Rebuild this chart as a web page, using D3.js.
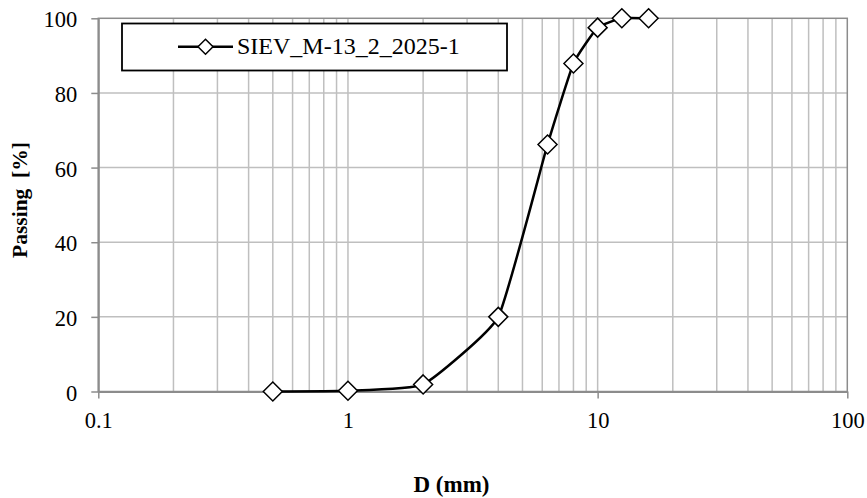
<!DOCTYPE html>
<html><head><meta charset="utf-8">
<script src="https://cdn.jsdelivr.net/npm/d3@7"></script>
<style>body{margin:0;background:#fff}svg{display:block}</style>
</head><body>
<script>
const seriesName = "SIEV_M-13_2_2025-1";
const sizes = [0.5, 1, 2, 4, 6.3, 8, 10, 12.5, 16];
const passing = [0, 0.2, 1.9, 20, 66.2, 87.9, 97.5, 100, 100];
const xTicks = [0.1, 1, 10, 100];
const yTicks = [0, 20, 40, 60, 80, 100];
const xLabel = "D (mm)";
const yLabel = "Passing  [%]";

const FONT = "'Liberation Serif', 'Times New Roman', serif";
const W = 867, H = 498;
const svg = d3.select("body").append("svg").attr("width", W).attr("height", H)
  .style("font-family", FONT);
const x = d3.scaleLog().domain([0.1, 100]).range([98.3, 847.3]);
const y = d3.scaleLinear().domain([0, 100]).range([391.5, 18.3]);

// minor vertical grid
const minor = [];
for (let d = 0.1; d < 100; d *= 10) for (let k = 2; k <= 10; k++) minor.push(+(d * k).toPrecision(3));
svg.append("g").selectAll("line").data(minor.filter(v => v < 100)).join("line")
  .attr("x1", d => x(d)).attr("x2", d => x(d)).attr("y1", y(0)).attr("y2", y(100))
  .attr("stroke", "#bfbfbf").attr("stroke-width", 1.5);
svg.append("g").selectAll("line").data(yTicks.filter(v => v > 0 && v < 100)).join("line")
  .attr("x1", x(0.1)).attr("x2", x(100)).attr("y1", d => y(d)).attr("y2", d => y(d))
  .attr("stroke", "#bfbfbf").attr("stroke-width", 1.5);
// border
svg.append("rect").attr("x", x(0.1)).attr("y", y(100)).attr("width", x(100) - x(0.1)).attr("height", y(0) - y(100))
  .attr("fill", "none").attr("stroke", "#8c8c8c").attr("stroke-width", 1.5);

// axes
const xAxis = svg.append("g").attr("transform", `translate(0,${y(0)})`)
  .call(d3.axisBottom(x).tickValues(xTicks).tickFormat(d => String(d)).tickSize(7).tickSizeOuter(0));
const yAxis = svg.append("g").attr("transform", `translate(${x(0.1)},0)`)
  .call(d3.axisLeft(y).tickValues(yTicks).tickSize(7).tickSizeOuter(0));
[xAxis, yAxis].forEach(a => {
  a.attr("font-family", null).attr("font-size", null);
  a.select(".domain").attr("stroke", "#8c8c8c").attr("stroke-width", 2);
  a.selectAll(".tick line").attr("stroke", "#8c8c8c").attr("stroke-width", 1.5);
  a.selectAll("text").style("font-family", FONT).style("font-size", "22.5px").attr("fill", "#000");
});
xAxis.selectAll("text").attr("dy", 0).attr("y", 36);
yAxis.selectAll("text").attr("dy", 0).attr("x", -21).attr("y", 8.5);

// series
const pts = sizes.map((d, i) => [x(d), y(passing[i])]);
svg.append("path").attr("d", d3.line().curve(d3.curveCardinal.tension(0.6))(pts))
  .attr("fill", "none").attr("stroke", "#000").attr("stroke-width", 2.5);
const diamond = r => `M0,${-r}L${r},0L0,${r}L${-r},0Z`;
svg.append("g").selectAll("path").data(pts).join("path")
  .attr("transform", d => `translate(${d[0]},${d[1]})`).attr("d", diamond(9.5))
  .attr("fill", "#fff").attr("stroke", "#000").attr("stroke-width", 1.5);

// legend
const lg = svg.append("g");
lg.append("rect").attr("x", 122).attr("y", 23.5).attr("width", 385).attr("height", 47)
  .attr("fill", "#fff").attr("stroke", "#000").attr("stroke-width", 1.8);
lg.append("line").attr("x1", 178).attr("x2", 233).attr("y1", 46.7).attr("y2", 46.7).attr("stroke", "#000").attr("stroke-width", 2.5);
lg.append("path").attr("transform", "translate(205.5,46.7)").attr("d", diamond(7.5)).attr("fill", "#fff").attr("stroke", "#000").attr("stroke-width", 1.5);
lg.append("text").attr("x", 237).attr("y", 53.5).style("font-size", "24px").text(seriesName);

// axis titles
svg.append("text").attr("x", 451.5).attr("y", 491.5).attr("text-anchor", "middle")
  .attr("font-weight", "bold").style("font-size", "23px").text(xLabel);
svg.append("text").attr("transform", "translate(27,200) rotate(-90)").attr("text-anchor", "middle")
  .attr("font-weight", "bold").style("font-size", "21.5px").style("white-space", "pre").text(yLabel);
</script>
</body></html>
